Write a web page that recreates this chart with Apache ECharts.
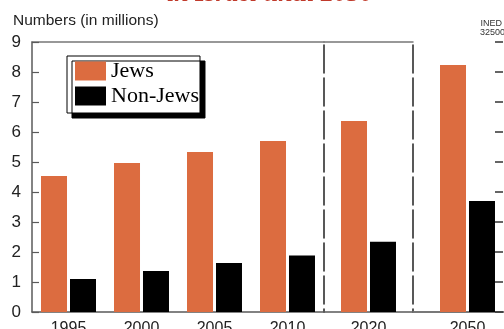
<!DOCTYPE html>
<html>
<head>
<meta charset="utf-8">
<script src="https://cdn.jsdelivr.net/npm/echarts@6/dist/echarts.min.js"></script>
<style>
	html, body { margin: 0; padding: 0; background: #fff; }
	#chart { width: 504px; height: 329px; }
</style>
</head>
<body>
<div id="chart"></div>
<script>
// data (millions)
var years = ['1995', '2000', '2005', '2010', '2020', '2050']
var jews = [4.53, 4.97, 5.33, 5.7, 6.37, 8.23]
var nonJews = [1.1, 1.37, 1.63, 1.88, 2.34, 3.7]
var yTicks = ['0', '1', '2', '3', '4', '5', '6', '7', '8', '9']
// the axis is broken in three pieces: 1995-2010, 2020, 2050
var segments = [[0, 4], [4, 5], [5, 6]]

var orange = '#dc6c40'
var axisGray = '#5a5a5a'
var sans = 'Liberation Sans'

function drawChart(chartDom) {
	var myChart = echarts.init(chartDom)

	var grids = [
		{ left: 32, top: 42, width: 292, bottom: 17, outerBoundsMode: 'none' },
		{ left: 324, top: 42, width: 89, bottom: 17, outerBoundsMode: 'none' },
		{ left: 413, top: 42, right: -18, bottom: 17, outerBoundsMode: 'none' },
	]

	var xAxes = []
	var yAxes = []
	var series = []

	segments.forEach(function (seg, i) {
		var cats = years.slice(seg[0], seg[1])
		// bottom axis with labels and separator ticks
		xAxes.push({
			type: 'category',
			gridIndex: i,
			data: cats,
			position: 'bottom',
			axisLine: { lineStyle: { color: axisGray, width: 1.5 } },
			axisTick: { length: 20, lineStyle: { color: '#222', width: 1.2 } },
			axisLabel: {
				color: '#222',
				fontFamily: sans,
				fontSize: 16,
				margin: 9,
			},
		})
		// top frame line
		xAxes.push({
			type: 'category',
			gridIndex: i,
			data: cats,
			position: 'top',
			axisLine: { lineStyle: { color: '#777', width: 1.5 } },
			axisTick: { show: false },
			axisLabel: { show: false },
		})

		yAxes.push({
			type: 'value',
			gridIndex: i,
			min: 0,
			max: 9,
			interval: 1,
			position: 'left',
			splitLine: { show: false },
			axisLine: {
				show: true,
				lineStyle:
					i == 0
						? { color: axisGray, width: 1.5 }
						: { color: '#222', width: 1.5, type: [28, 5], dashOffset: 25 },
			},
			axisTick: {
				show: i == 0,
				inside: true,
				length: 7,
				lineStyle: { color: axisGray, width: 1.2 },
			},
			axisLabel: {
				show: i == 0,
				color: '#222',
				fontFamily: sans,
				fontSize: 17,
				margin: 11,
				formatter: function (v) {
					return yTicks[v]
				},
			},
		})

		series.push({
			name: 'Jews',
			type: 'bar',
			xAxisIndex: i * 2,
			yAxisIndex: i,
			barWidth: 26,
			barGap: '11.5%',
			itemStyle: { color: orange },
			data: jews.slice(seg[0], seg[1]),
		})
		series.push({
			name: 'Non-Jews',
			type: 'bar',
			xAxisIndex: i * 2,
			yAxisIndex: i,
			barWidth: 26,
			barGap: '11.5%',
			itemStyle: { color: '#000' },
			data: nonJews.slice(seg[0], seg[1]),
		})
	})

	// short ticks above the baseline between the first four years
	xAxes.push({
		type: 'category',
		gridIndex: 0,
		data: years.slice(0, 4),
		position: 'bottom',
		axisLine: { show: false },
		axisTick: { inside: true, length: 8, lineStyle: { color: '#222', width: 1.2 } },
		axisLabel: { show: false },
	})
	// right hand ticks, the axis line itself falls outside the picture
	yAxes.push({
		type: 'value',
		gridIndex: 2,
		min: 0,
		max: 9,
		interval: 1,
		position: 'right',
		offset: -19,
		splitLine: { show: false },
		axisLine: { show: false },
		axisTick: { show: true, inside: true, length: 8, lineStyle: { color: '#333', width: 1.5 } },
		axisLabel: { show: false },
	})

	var option = {
		animation: false,
		grid: grids,
		xAxis: xAxes,
		yAxis: yAxes,
		legend: {
			data: ['Jews', 'Non-Jews'],
			orient: 'vertical',
			left: 67,
			top: 56,
			padding: [4, 1, 6, 8],
			itemGap: 3,
			itemWidth: 31,
			itemHeight: 19,
			icon: 'rect',
			backgroundColor: '#fff',
			borderColor: '#000',
			borderWidth: 1,
			borderRadius: 0,
			shadowColor: '#000',
			shadowBlur: 0,
			shadowOffsetX: 5,
			shadowOffsetY: 5,
			selectedMode: false,
			textStyle: {
				color: '#000',
				fontFamily: 'Liberation Serif',
				fontSize: 22,
				lineHeight: 22,
			},
		},
		graphic: [
			{
				type: 'text',
				left: 167,
				top: -19,
				style: {
					text: 'in Israel until 2050',
					fill: '#c03a2b',
					font: 'italic bold 26px "Liberation Serif"',
				},
			},
			{
				type: 'text',
				left: 13,
				top: 13,
				style: {
					text: 'Numbers (in millions)',
					fill: '#222',
					font: '15.5px "Liberation Sans"',
				},
			},
			{
				type: 'text',
				right: 2,
				top: 19,
				style: {
					text: 'INED',
					fill: '#333',
					font: '9px "Liberation Sans"',
				},
			},
			{
				type: 'text',
				left: 480,
				top: 28,
				style: {
					text: '32500',
					fill: '#333',
					font: '9px "Liberation Sans"',
				},
			},
		],
		series: series,
	}

	option && myChart.setOption(option)
}

drawChart(document.getElementById('chart'))
</script>
</body>
</html>
